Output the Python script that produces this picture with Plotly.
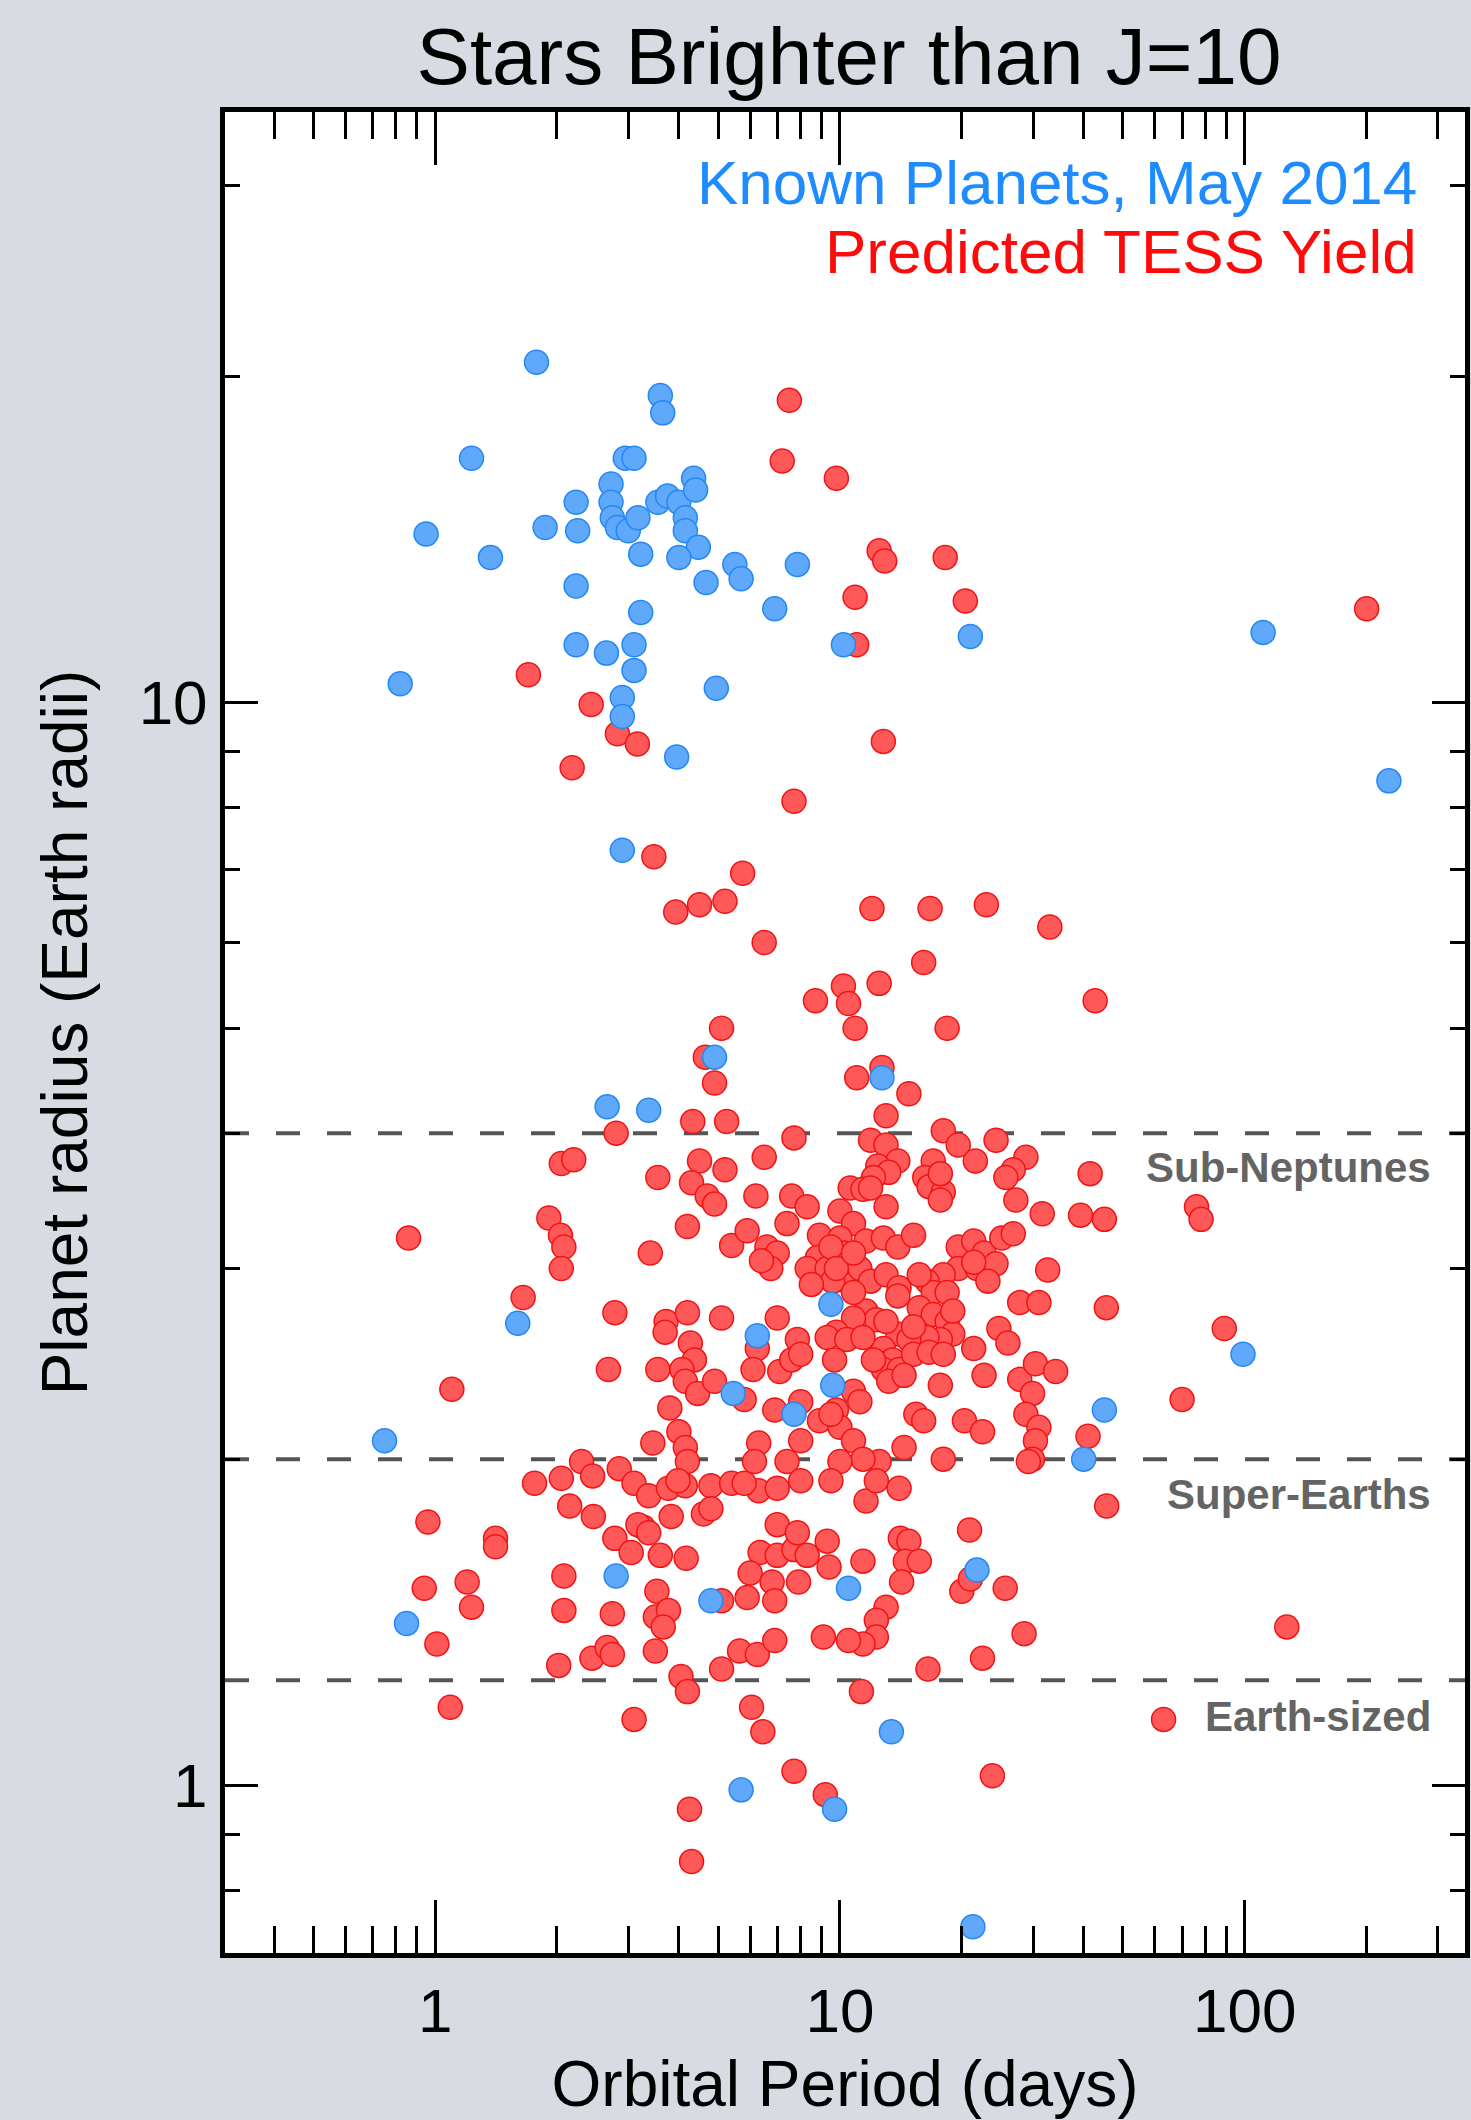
import plotly.graph_objects as go

# ---------------- data (orbital period in days, radius in Earth radii) ----------------
tess_period = [
    7.5, 7.2, 9.8, 12.5, 12.9, 18.2, 20.4, 10.9, 11.0, 200, 1.7, 2.43, 2.82, 3.16, 2.18, 12.8, 7.7,
    3.47, 3.93, 4.5, 5.2, 5.75, 6.5, 12.0, 16.7, 23.0, 33.0, 16.1, 12.5, 10.2, 10.5, 8.7, 10.9, 18.4,
    42.7, 5.1, 4.65, 4.9, 11.0, 12.7, 14.8,
    4.33, 5.25, 2.8, 7.7, 2.05, 2.2, 3.55, 6.5, 4.5, 5.2, 4.3, 4.7, 4.9, 6.2, 7.6, 4.2, 3.4, 5.4, 5.9,
    6.6, 7.0, 6.75, 7.4, 6.4, 1.91, 2.04, 2.08, 2.05, 0.86, 1.65, 2.78, 2.68, 1.1, 3.55, 3.72, 3.7,
    4.2, 4.27, 4.37, 4.07, 4.15, 4.45, 5.1, 4.9, 5.8, 7.0, 6.25, 6.1, 7.1, 7.6, 3.8, 4.0, 4.15, 4.2,
    3.45, 6.9, 6.3, 6.15, 7.4,
    1.76, 2.05, 2.3, 2.45, 2.85, 3.1, 3.37, 3.77, 4.15, 4.8, 5.4, 6.3, 7.0, 3.98, 5.8,
    2.15, 2.46, 3.83, 4.6, 4.8, 0.96, 1.41, 1.41, 3.27, 3.17, 3.37, 2.78, 3.05, 3.6, 4.17, 7.0, 6.35,
    7.0, 7.7, 6.0, 6.8, 6.9, 5.1, 5.9, 0.94, 1.2, 1.23, 2.08, 2.08, 2.74, 3.53, 3.6, 3.5, 3.77, 3.66,
    1.01, 2.02, 2.44, 2.66, 2.74, 3.5, 4.05, 4.2, 5.1, 5.65, 6.25, 6.9, 1.09, 3.1, 6.05, 6.45, 7.7,
    4.25, 4.3,
    11.6, 45.6, 7.85, 8.3, 9.3, 9.4, 7.9, 11.4, 14.1, 14.8, 14.5, 15.7, 14.2, 20.9, 20.0, 21.0, 25.6,
    13.0, 12.3, 12.3, 11.4, 10.5, 9.1, 28.5, 22.5, 16.5, 11.3, 63, 23.8, 9.2,
    13.0, 11.9, 13.0, 13.9, 12.4, 13.2, 12.1, 18.0, 19.6, 21.6, 17.0, 16.2, 16.6, 18.0, 17.7, 24.3,
    28.8, 26.8, 25.7, 41.5, 27.2, 31.6, 39.3, 45.0, 13.0, 10.6, 11.4, 8.3, 10.0, 10.8, 8.9, 8.8, 8.3,
    9.3, 10.0, 10.2, 10.4, 9.6, 8.5, 11.6, 12.8, 13.9, 15.2, 11.2, 11.9, 13.0, 14.0, 13.9, 19.6, 21.4,
    22.7, 25.1, 26.8, 19.6, 21.8, 24.3, 23.2, 18.0, 16.4, 17.0, 15.7, 32.6, 27.8, 31.0, 45.5, 17.0,
    18.4, 19.0, 17.7, 16.4, 24.7, 26.0, 21.4, 13.9, 14.8, 12.8, 13.5, 12.8, 14.0, 13.2, 15.2, 16.6,
    18.0, 11.6, 12.3, 10.8, 9.8, 9.3, 10.4, 11.4, 7.85, 8.0, 9.7, 17.7, 22.7, 27.8, 30.4, 34.1, 29.9,
    10.8, 11.2, 9.8, 8.9, 10.0, 10.8, 9.5, 8.0, 8.0, 15.4, 16.1, 20.3, 22.5, 28.8, 31.0, 30.4, 29.9,
    41.0, 70.0, 14.4, 12.5, 11.4, 10.0, 9.5, 12.3, 14.0, 18.0, 29.2, 8.0, 76.0, 78.0, 89.0, 127.0,
    9.5, 9.8, 10.8, 15.7, 18.4, 19.0, 15.2, 13.0, 12.1, 14.4, 10.8, 21.4, 17.7, 11.9,
]
tess_radius = [
    19.0, 16.7, 16.1, 13.8, 13.5, 13.6, 12.4, 12.5, 11.3, 12.2, 10.6, 9.95, 9.35, 9.15, 8.7, 9.2, 8.1,
    7.2, 6.4, 6.5, 6.55, 6.95, 6.0, 6.45, 6.45, 6.5, 6.2, 5.75, 5.5, 5.47, 5.27, 5.3, 5.0, 5.0,
    5.3, 5.0, 4.7, 4.45, 4.5, 4.6, 4.35,
    4.1, 4.1, 4.0, 3.96, 3.75, 3.78, 3.64, 3.8, 3.77, 3.7, 3.6, 3.5, 3.44, 3.5, 3.5, 3.28, 3.1, 3.15, 3.25,
    3.14, 3.1, 3.0, 3.3, 3.05, 3.34, 3.22, 3.14, 3.0, 3.2, 2.82, 2.73, 2.42, 2.32, 2.42, 2.68, 2.62,
    2.73, 2.56, 2.47, 2.42, 2.36, 2.3, 2.7, 2.36, 2.27, 2.7, 2.53, 2.42, 2.41, 2.47, 2.23, 2.12, 2.05, 1.99,
    2.07, 2.22, 2.07, 1.99, 1.99,
    1.9, 1.92, 1.99, 1.93, 1.96, 1.9, 1.85, 1.88, 1.89, 1.89, 1.9, 1.87, 1.88, 1.91, 1.9,
    1.81, 1.77, 1.77, 1.78, 1.8, 1.75, 1.69, 1.66, 1.73, 1.74, 1.71, 1.69, 1.64, 1.63, 1.62, 1.74, 1.64,
    1.63, 1.65, 1.57, 1.54, 1.48, 1.48, 1.49, 1.52, 1.54, 1.46, 1.56, 1.45, 1.44, 1.51, 1.43, 1.43, 1.45, 1.4,
    1.35, 1.29, 1.31, 1.34, 1.32, 1.33, 1.26, 1.22, 1.28, 1.33, 1.32, 1.36, 1.18, 1.15, 1.18, 1.12, 1.03,
    0.95, 0.85,
    1.83, 1.81, 1.71, 1.63, 1.68, 1.59, 1.54, 1.61, 1.69, 1.68, 1.61, 1.61, 1.54, 1.72, 1.51, 1.55, 1.52,
    1.46, 1.42, 1.37, 1.35, 1.36, 1.37, 1.38, 1.31, 1.28, 1.22, 1.15, 1.02, 0.98,
    4.15, 3.94, 3.9, 3.77, 3.73, 3.68, 3.64, 4.02, 3.9, 3.77, 3.77, 3.64, 3.57, 3.53, 3.47, 3.94,
    3.8, 3.7, 3.64, 3.67, 3.47, 3.37, 3.36, 3.33, 3.42, 3.56, 3.55, 3.42, 3.39, 3.3, 3.22, 3.07, 3.0,
    3.0, 3.2, 3.1, 2.92, 2.92, 2.9, 3.18, 3.2, 3.14, 3.22, 3.0, 2.92, 2.96, 2.88, 2.83, 3.14, 3.18,
    3.1, 3.2, 3.23, 3.0, 3.0, 3.03, 2.92, 2.96, 2.92, 2.85, 2.76, 2.99, 2.79, 2.79, 2.76, 2.72,
    2.68, 2.61, 2.58, 2.59, 2.64, 2.56, 2.53, 2.61, 2.58, 2.53, 2.47, 2.42, 2.42, 2.36, 2.5, 2.51,
    2.5, 2.74, 2.69, 2.7, 2.62, 2.59, 2.58, 2.59, 2.58, 2.5, 2.47, 2.34, 2.39, 2.37, 2.45, 2.41, 2.3,
    2.31, 2.26, 2.22, 2.17, 2.14, 2.08, 2.2, 2.26, 2.08, 2.2, 2.17, 2.17, 2.12, 2.2, 2.14, 2.08, 2.0,
    2.1, 2.27, 2.05, 1.99, 2.0, 1.99, 1.91, 1.91, 1.88, 2.0, 1.99, 1.91, 3.42, 3.33, 2.64, 1.4,
    3.14, 3.0, 3.1, 2.96, 2.85, 2.74, 2.65, 2.68, 2.47, 2.39, 2.85, 3.04, 3.67, 3.56,
]

known_period = [
    1.78, 3.6, 3.65, 1.23, 2.95, 3.1, 0.95, 1.37, 1.87, 2.23, 2.25, 2.23, 2.23, 2.65, 3.1, 3.1, 2.9,
    2.9, 3.22, 3.22, 3.95, 4.95, 0.82, 2.9,
    2.72, 2.72, 2.74, 2.82, 3.0, 3.17, 3.55, 3.75, 4.0, 4.35, 4.4, 4.15, 4.15, 4.47, 4.0, 5.5, 5.7,
    4.67, 7.85, 6.9,
    21.0, 10.2, 111, 227, 4.9, 12.7, 2.66, 3.37, 1.6, 6.25, 5.45, 7.7, 0.75, 9.5, 9.6, 45, 40, 99,
    2.8, 0.85, 4.8, 10.5, 21.8, 13.4, 9.7, 5.7, 21.3,
]
known_radius = [
    20.6, 19.2, 18.5, 16.8, 16.8, 16.8, 14.3, 13.6, 14.5, 15.3, 14.4, 12.8, 11.3, 11.1, 11.3, 10.7, 10.1,
    9.7, 12.1, 13.7, 8.9, 10.3, 10.4, 7.3,
    15.9, 15.3, 14.8, 14.5, 14.4, 14.8, 15.3, 15.5, 15.3, 16.1, 15.7, 14.8, 14.4, 13.9, 13.6, 13.4, 13.0,
    12.9, 13.4, 12.2,
    11.5, 11.3, 11.6, 8.46, 4.7, 4.5, 4.23, 4.2, 2.67, 2.6, 2.3, 2.2, 2.08, 2.78, 2.34, 2.22, 2.0, 2.5,
    1.56, 1.41, 1.48, 1.52, 1.58, 1.12, 0.95, 0.99, 0.74,
]

class_limits = [4.0, 2.0, 1.25]
class_labels = ["Sub-Neptunes", "Super-Earths", "Earth-sized"]

x_major = [1, 10, 100]
x_minor = [0.4, 0.5, 0.6, 0.7, 0.8, 0.9, 2, 3, 4, 5, 6, 7, 8, 9,
           20, 30, 40, 50, 60, 70, 80, 90, 200, 300]
y_major = [1, 10]
y_minor = [0.8, 0.9, 2, 3, 4, 5, 6, 7, 8, 9, 20, 30]

# ---------------- figure ----------------
FONT = "Liberation Sans, Arial, Helvetica, sans-serif"
W, H = 1471, 2120
ML, MR, MT, MB = 225, 1, 112, 167
plot_h = H - MT - MB
plot_w = W - ML - MR


def py(pix):  # pixel row -> paper y
    return (H - MB - pix) / plot_h


def px(pix):  # pixel column -> paper x
    return (pix - ML) / plot_w


fig = go.Figure()

fig.add_trace(go.Scatter(
    x=tess_period, y=tess_radius, mode="markers", name="Predicted TESS Yield",
    marker=dict(size=24, color="rgb(255,88,88)", line=dict(color="rgb(240,20,20)", width=1.5)),
    showlegend=False,
))
fig.add_trace(go.Scatter(
    x=known_period, y=known_radius, mode="markers", name="Known Planets, May 2014",
    marker=dict(size=24, color="rgb(95,168,250)", line=dict(color="rgb(35,135,245)", width=1.5)),
    showlegend=False,
))

for lim in class_limits:
    fig.add_shape(type="line", xref="paper", yref="y", x0=0, x1=1, y0=lim, y1=lim,
                  line=dict(color="rgb(85,85,85)", width=4, dash="24px,27px"), layer="below")

label_rows = [1168, 1494, 1716]
for text, row in zip(class_labels, label_rows):
    fig.add_annotation(text=f"<b>{text}</b>", xref="paper", yref="paper",
                       x=px(1438), y=py(row), xanchor="right", yanchor="middle",
                       showarrow=False, font=dict(family=FONT, size=42, color="rgb(100,100,100)"))

fig.add_annotation(text="Known Planets, May 2014", xref="paper", yref="paper",
                   x=px(1424), y=py(183), xanchor="right", yanchor="middle", showarrow=False,
                   font=dict(family=FONT, size=62, color="rgb(30,140,255)"))
fig.add_annotation(text="Predicted TESS Yield", xref="paper", yref="paper",
                   x=px(1424), y=py(251), xanchor="right", yanchor="middle", showarrow=False,
                   font=dict(family=FONT, size=62, color="rgb(255,10,10)"))

axis_common = dict(
    type="log", showgrid=False, zeroline=False, showline=True, linecolor="black", linewidth=5,
    mirror="ticks", ticks="inside", tickcolor="black", tickwidth=3,
    tickfont=dict(family=FONT, size=62, color="black"),
    tickmode="array",
)

fig.update_xaxes(
    **axis_common, range=[-0.519, 2.544], tickvals=x_major, ticktext=["1", "10", "100"], ticklen=53,
    minor=dict(tickmode="array", tickvals=x_minor, ticks="inside", ticklen=27, tickwidth=3,
               tickcolor="black", showgrid=False),
    title=dict(text="Orbital Period (days)", font=dict(family=FONT, size=64, color="black"), standoff=20),
)
fig.update_yaxes(
    **axis_common, range=[-0.155, 1.545], tickvals=y_major, ticktext=["1", "10"], ticklen=33,
    minor=dict(tickmode="array", tickvals=y_minor, ticks="inside", ticklen=15, tickwidth=3,
               tickcolor="black", showgrid=False),
    title=dict(text="Planet radius (Earth radii)", font=dict(family=FONT, size=64, color="black"), standoff=32),
)

fig.update_layout(
    width=W, height=H, autosize=False,
    margin=dict(l=ML, r=MR, t=MT, b=MB, pad=0),
    paper_bgcolor="rgb(216,219,226)", plot_bgcolor="white",
    title=dict(text="Stars Brighter than J=10", x=849 / W, xanchor="center",
               y=1 - 56 / H, yanchor="middle", font=dict(family=FONT, size=80, color="black")),
    showlegend=False,
)

fig.write_html("out.html")
